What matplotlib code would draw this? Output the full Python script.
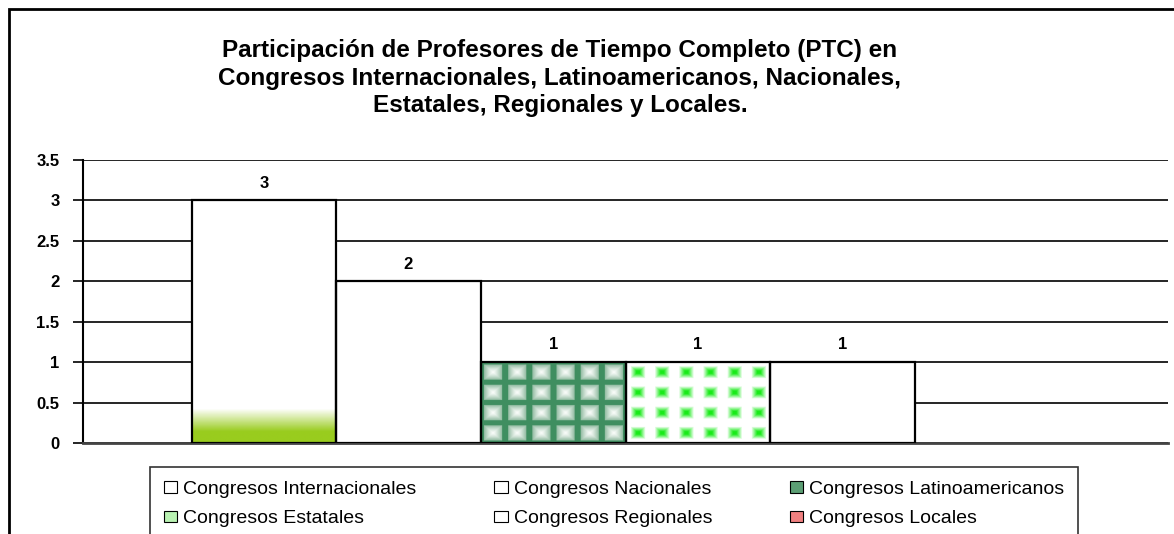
import numpy as np
import matplotlib
matplotlib.use("Agg")
import matplotlib.pyplot as plt
from matplotlib.patches import Rectangle, Patch

plt.rcParams['font.family'] = ['Liberation Sans', 'DejaVu Sans']

# ---------------- data ----------------
series = ["Congresos Internacionales", "Congresos Nacionales", "Congresos Latinoamericanos",
          "Congresos Estatales", "Congresos Regionales", "Congresos Locales"]
values = [3, 2, 1, 1, 1, 0]
legend_colors = ["white", "white", "#5c9e74", "#b9f2b2", "white", "#f08080"]
yticks = [0, 0.5, 1, 1.5, 2, 2.5, 3, 3.5]
ytick_labels = ["0", "0.5", "1", "1.5", "2", "2.5", "3", "3.5"]
title = ("Participación de Profesores de Tiempo Completo (PTC) en\n"
         "Congresos Internacionales, Latinoamericanos, Nacionales,\n"
         "Estatales, Regionales y Locales.")

W, H = 1174, 534
fig = plt.figure(figsize=(W / 100, H / 100), dpi=100)
ax = fig.add_axes([83 / W, 1 - 443 / H, (1168 - 83) / W, (443 - 160) / H])

# outer chart border (runs off the right and bottom edges)
fig.patches.append(Rectangle((9 / W, -0.05), 1.1, 1 - 9 / H + 0.05, transform=fig.transFigure,
                             fill=False, edgecolor="black", linewidth=2, zorder=0))

x = np.arange(len(values))
bars = ax.bar(x, values, width=1.0, color="white", edgecolor="none", zorder=2)
bars[-1].set_facecolor("#f08080")


# --- texture helpers ---
def tile_grid(nx, ny, px=24):
    u = np.linspace(-1, 1, px)
    uu, vv = np.meshgrid(u, u)
    d = np.maximum(np.abs(uu), np.abs(vv))
    return np.tile(d, (ny, nx))


# gradient fill at the base of the first bar
b = bars[0]
yy = np.linspace(0, b.get_height(), 300)[:, None]
alpha = np.clip((0.42 - yy) / (0.42 - 0.14), 0, 1)
grad = np.zeros((300, 2, 4))
grad[..., 0], grad[..., 1], grad[..., 2] = 0.60, 0.80, 0.12
grad[..., 3] = alpha[:, 0][:, None]
ax.imshow(grad, extent=(b.get_x(), b.get_x() + b.get_width(), 0, b.get_height()),
          origin="lower", aspect="auto", interpolation="bilinear", zorder=2.5, clip_path=b)

# tiled pattern for Latinoamericanos
b = bars[2]
d = tile_grid(6, 4)
dark = np.array([0.25, 0.56, 0.38])
mid = np.array([0.58, 0.74, 0.64])
t = np.clip(d / 0.76, 0, 1)[..., None] ** 1.3
tex = (1 - t) * np.array([0.98, 0.99, 0.98]) + t * mid
tex = np.where((d > 0.76)[..., None], dark, tex)
ax.imshow(tex, extent=(b.get_x(), b.get_x() + b.get_width(), 0, b.get_height()),
          aspect="auto", interpolation="bilinear", zorder=2.5, clip_path=b)

# dotted pattern for Estatales
b = bars[3]
d = tile_grid(6, 4)
t = np.clip((d - 0.15) / 0.5, 0, 1)[..., None]
tex = (1 - t) * np.array([0.1, 0.92, 0.1]) + t * np.array([1.0, 1.0, 1.0])
ax.imshow(tex, extent=(b.get_x(), b.get_x() + b.get_width(), 0, b.get_height()),
          aspect="auto", interpolation="bilinear", zorder=2.5, clip_path=b)

# bar outlines on top of the fills
ax.bar(x[:-1], values[:-1], width=1.0, fill=False, edgecolor="black", linewidth=1.6, zorder=3)

# value labels
for xi, v in zip(x, values):
    if v > 0:
        ax.annotate(str(v), (xi, v), xytext=(0, 7), textcoords="offset points",
                    ha="center", va="bottom", fontsize=12, fontweight="bold")

ax.set_xlim(-1.25, 6.25)
ax.set_ylim(0, 3.5)
ax.set_yticks(yticks)
ax.set_yticklabels(ytick_labels, fontsize=12, fontweight="bold")
ax.set_xticks([])
ax.tick_params(axis="y", length=7, width=1.2, pad=10)
ax.yaxis.grid(True, color="black", linewidth=1.2)
ax.set_axisbelow(True)
for s in ["top", "right"]:
    ax.spines[s].set_visible(False)
ax.spines["left"].set_linewidth(1.5)
ax.spines["bottom"].set_color("#444444")
ax.spines["bottom"].set_linewidth(2)

fig.text(560 / W, 1 - 39 / H, title, ha="center", va="top", fontsize=17.5,
         fontweight="bold", linespacing=1.25)

# legend, filled row by row like the original
handles = [Patch(facecolor=c, edgecolor="black", linewidth=0.8) for c in legend_colors]
order = [0, 3, 1, 4, 2, 5]
leg = fig.legend([handles[i] for i in order], [series[i] for i in order], ncol=3,
                 loc="upper left", bbox_to_anchor=(150 / W, 1 - 467 / H),
                 fontsize=14, frameon=True, fancybox=False, edgecolor="black",
                 handlelength=0.7, handleheight=0.55, handletextpad=0.3,
                 columnspacing=4.0, labelspacing=0.66, borderpad=0.7, borderaxespad=0)
leg.get_frame().set_linewidth(1.2)

fig.savefig("out.png", dpi=100)
